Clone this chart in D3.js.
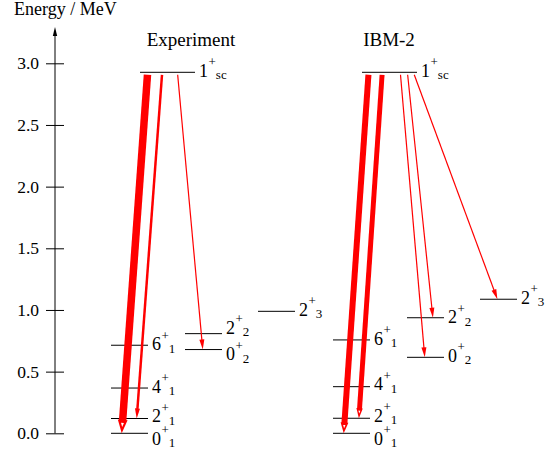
<!DOCTYPE html>
<html>
<head>
<meta charset="utf-8">
<script src="https://cdn.jsdelivr.net/npm/d3@7"></script>
<style>
  body { margin: 0; background: #fff; }
  text { font-family: "Liberation Serif", "DejaVu Serif", serif; fill: #000; }
</style>
</head>
<body>
<svg id="scheme"></svg>
<script>
const width = 555;
const height = 454;

// level names: spin, parity, index
const levelNames = ["0+1", "2+1", "4+1", "6+1", "0+2", "2+2", "2+3", "1+sc"];
const expEnergies = [0, 0.120, 0.367, 0.714, 0.679, 0.808, 0.989, 2.927];
const ibmEnergies = [0, 0.122, 0.378, 0.757, 0.616, 0.937, 1.087, 2.927];
// which column of a panel the level sits in (0 ground band, 1 second band, 2 gamma, 3 scissors)
const levelColumn = [0, 0, 0, 0, 1, 1, 2, 3];

// M1 transitions from the scissors state: target level, relative strength
const expTargets = ["0+1", "2+1", "0+2"];
const expStrength = [100, 33, 16];
const ibmTargets = ["0+1", "2+1", "0+2", "2+2", "2+3"];
const ibmStrength = [80, 66, 16, 16, 16];

const energyTicks = [0, 0.5, 1.0, 1.5, 2.0, 2.5, 3.0];

const svg = d3.select("#scheme")
    .attr("width", width)
    .attr("height", height);

const y = d3.scaleLinear().domain([0, 3]).range([433.3, 63.3]);
const strokeWidth = d3.scaleLinear().domain([0, 100]).range([0, 7.5]);

// column layout inside a panel
const colOffset = [0, 74, 147, 29];
const colWidth = [37, 37, 37, 55];

// where arrows leave the 1+ line and land on the target line (fraction of line)
const expStart = [0.136, 0.40, 0.685];
const expEnd = [0.29, 0.695, 0.48];
const ibmStart = [0.117, 0.365, 0.70, 0.83, 0.95];
const ibmEnd = [0.29, 0.70, 0.48, 0.70, 0.47];

// vertical nudge of labels that would otherwise collide
const expNudge = [7, -1, 0, 0.5, 6, -4.5, 0, 0];
const ibmNudge = [7, -1, -1, 0.5, 0, 1, 0, 0];

const panels = [
    {title: "Experiment", titleX: 191, x0: 111, energies: expEnergies, nudge: expNudge,
     targets: expTargets, strength: expStrength, start: expStart, end: expEnd},
    {title: "IBM-2", titleX: 389, x0: 333, energies: ibmEnergies, nudge: ibmNudge,
     targets: ibmTargets, strength: ibmStrength, start: ibmStart, end: ibmEnd}
];

// energy axis
const axisX = 55;
const axis = d3.axisLeft(y)
    .tickValues(energyTicks)
    .tickFormat(d3.format(".1f"))
    .tickSize(9)
    .tickPadding(7);

const axisG = svg.append("g")
    .attr("transform", `translate(${axisX},0)`)
    .call(axis);
axisG.select(".domain").remove();
axisG.selectAll(".tick line").attr("x1", 9).attr("stroke", "#000");
axisG.selectAll(".tick text")
    .attr("font-size", 17.5)
    .style("font-family", "'Liberation Serif', serif");

svg.append("line")
    .attr("x1", axisX).attr("x2", axisX)
    .attr("y1", y(0)).attr("y2", 34)
    .attr("stroke", "#000");
svg.append("polygon")
    .attr("points", [[axisX, 27], [axisX - 2.2, 36], [axisX + 2.2, 36]].join(" "))
    .attr("fill", "#000");

svg.append("text")
    .attr("x", 14).attr("y", 15)
    .attr("font-size", 18)
    .text("Energy / MeV");

function levelGeom(panel, name) {
    const i = levelNames.indexOf(name);
    const c = levelColumn[i];
    const xa = panel.x0 + colOffset[c];
    return {x1: xa, x2: xa + colWidth[c], y: y(panel.energies[i])};
}

function drawArrow(g, xs, ys, xt, yt, w) {
    const dx = xt - xs, dy = yt - ys;
    const len = Math.sqrt(dx * dx + dy * dy);
    const ux = dx / len, uy = dy / len;
    const px = -uy, py = ux;
    const hw = Math.max(5, w * 1.3) / 2;
    const hl = Math.max(10, w * 1.8);
    const bx = xt - ux * hl, by = yt - uy * hl;

    g.append("line")
        .attr("x1", xs).attr("y1", ys)
        .attr("x2", bx + ux * 1).attr("y2", by + uy * 1)
        .attr("stroke", "#ff0000")
        .attr("stroke-width", w);

    const head = [[xt, yt], [bx + px * hw, by + py * hw], [bx - px * hw, by - py * hw]];
    g.append("polygon")
        .attr("points", head.join(" "))
        .attr("fill", "#ff0000");

    if (w >= 4.5) {
        // hollow centre of the heavy arrowheads
        const cx = (head[0][0] + head[1][0] + head[2][0]) / 3;
        const cy = (head[0][1] + head[1][1] + head[2][1]) / 3;
        const k = 0.3;
        const inner = head.map(p => [cx + (p[0] - cx) * k, cy + (p[1] - cy) * k]);
        g.append("polygon")
            .attr("points", inner.join(" "))
            .attr("fill", "#fff");
    }
}

panels.forEach(panel => {
    const g = svg.append("g");

    g.append("text")
        .attr("x", panel.titleX).attr("y", 46)
        .attr("text-anchor", "middle")
        .attr("font-size", 19)
        .text(panel.title);

    levelNames.forEach((name, i) => {
        const L = levelGeom(panel, name);
        g.append("line")
            .attr("x1", L.x1).attr("x2", L.x2)
            .attr("y1", L.y).attr("y2", L.y)
            .attr("stroke", "#000");

        const spin = name[0];
        const sub = name.slice(2);
        const t = g.append("text")
            .attr("x", L.x2 + 4)
            .attr("y", L.y + 4.5 + panel.nudge[i])
            .attr("font-size", 18)
            .text(spin);
        t.append("tspan")
            .attr("dx", 0.5)
            .attr("dy", -10.5)
            .attr("font-size", 13)
            .text("+");
        t.append("tspan")
            .attr("dy", 13)
            .attr("font-size", 13)
            .text(sub);
    });

    const top = levelGeom(panel, "1+sc");
    panel.targets.forEach((name, k) => {
        const L = levelGeom(panel, name);
        const xs = top.x1 + panel.start[k] * (top.x2 - top.x1);
        const xt = L.x1 + panel.end[k] * (L.x2 - L.x1);
        drawArrow(g, xs, top.y + 2.5, xt, L.y, strokeWidth(panel.strength[k]));
    });
});
</script>
</body>
</html>
